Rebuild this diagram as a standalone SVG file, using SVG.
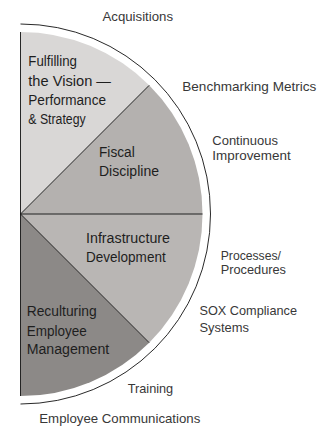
<svg xmlns="http://www.w3.org/2000/svg" width="326" height="431" viewBox="0 0 326 431">
<style>
.t{font-family:"Liberation Sans",Arial,sans-serif;}
.in{font-size:14px;fill:#1e1e1e;}
.out{font-size:13px;fill:#383838;}
.div{stroke:#111;stroke-width:0.9;fill:none;}
</style>
<rect width="326" height="431" fill="#ffffff"/>
<g id="sector-vision">
<path d="M20.5,214 L20.5,32 A182,182 0 0,1 149.19,85.31 Z" fill="#d9d7d6"/>
<text class="t in" x="28.3" y="66" textLength="48.7" lengthAdjust="spacingAndGlyphs">Fulfilling</text>
<text class="t in" x="28.3" y="85.5" textLength="82.7" lengthAdjust="spacingAndGlyphs">the Vision —</text>
<text class="t in" x="28.3" y="105" textLength="77.7" lengthAdjust="spacingAndGlyphs">Performance</text>
<text class="t in" x="28.3" y="124" textLength="57.4" lengthAdjust="spacingAndGlyphs">&amp; Strategy</text>
</g>
<g id="sector-fiscal">
<path d="M20.5,214 L149.19,85.31 A182,182 0 0,1 202.5,214 Z" fill="#b4b1af"/>
<text class="t in" x="99" y="157.3" textLength="35.7" lengthAdjust="spacingAndGlyphs">Fiscal</text>
<text class="t in" x="99" y="176" textLength="60" lengthAdjust="spacingAndGlyphs">Discipline</text>
</g>
<g id="sector-infrastructure">
<path d="M20.5,214 L202.5,214 A182,182 0 0,1 149.19,342.69 Z" fill="#b9b6b4"/>
<text class="t in" x="86" y="243" textLength="84" lengthAdjust="spacingAndGlyphs">Infrastructure</text>
<text class="t in" x="86" y="261.5" textLength="79.7" lengthAdjust="spacingAndGlyphs">Development</text>
</g>
<g id="sector-reculturing">
<path d="M20.5,214 L149.19,342.69 A182,182 0 0,1 20.5,396 Z" fill="#8c8987"/>
<text class="t in" x="26.7" y="315.7" textLength="70" lengthAdjust="spacingAndGlyphs">Reculturing</text>
<text class="t in" x="26.7" y="335.5" textLength="60" lengthAdjust="spacingAndGlyphs">Employee</text>
<text class="t in" x="26.7" y="354.3" textLength="82.6" lengthAdjust="spacingAndGlyphs">Management</text>
</g>
<g id="lines">
<path class="div" d="M20.5,214 L149.19,85.31"/>
<path class="div" d="M20.5,214 L149.19,342.69"/>
<path class="div" d="M20.5,214 H202.5" stroke-width="1.1"/>
<path class="div" d="M20.5,32 V396" stroke-width="1.3"/>
<path class="div" d="M20.5,24 A190,190 0 0,1 20.5,404" stroke-width="1"/>
</g>
<g id="label-acquisitions"><text class="t out" x="102.5" y="21.3" textLength="70.5" lengthAdjust="spacingAndGlyphs">Acquisitions</text></g>
<g id="label-benchmarking"><text class="t out" x="182.3" y="91" textLength="134" lengthAdjust="spacingAndGlyphs">Benchmarking Metrics</text></g>
<g id="label-continuous">
<text class="t out" x="212.3" y="145" textLength="65.7" lengthAdjust="spacingAndGlyphs">Continuous</text>
<text class="t out" x="212.3" y="159.5" textLength="78.4" lengthAdjust="spacingAndGlyphs">Improvement</text>
</g>
<g id="label-processes">
<text class="t out" x="220.7" y="259.5" textLength="60.3" lengthAdjust="spacingAndGlyphs">Processes/</text>
<text class="t out" x="220.7" y="274" textLength="65.3" lengthAdjust="spacingAndGlyphs">Procedures</text>
</g>
<g id="label-sox">
<text class="t out" x="199.5" y="315" textLength="97.5" lengthAdjust="spacingAndGlyphs">SOX Compliance</text>
<text class="t out" x="199.5" y="332" textLength="49.5" lengthAdjust="spacingAndGlyphs">Systems</text>
</g>
<g id="label-training"><text class="t out" x="127.7" y="393.3" textLength="45.5" lengthAdjust="spacingAndGlyphs">Training</text></g>
<g id="label-communications"><text class="t out" x="39.3" y="423" textLength="161" lengthAdjust="spacingAndGlyphs">Employee Communications</text></g>
</svg>
